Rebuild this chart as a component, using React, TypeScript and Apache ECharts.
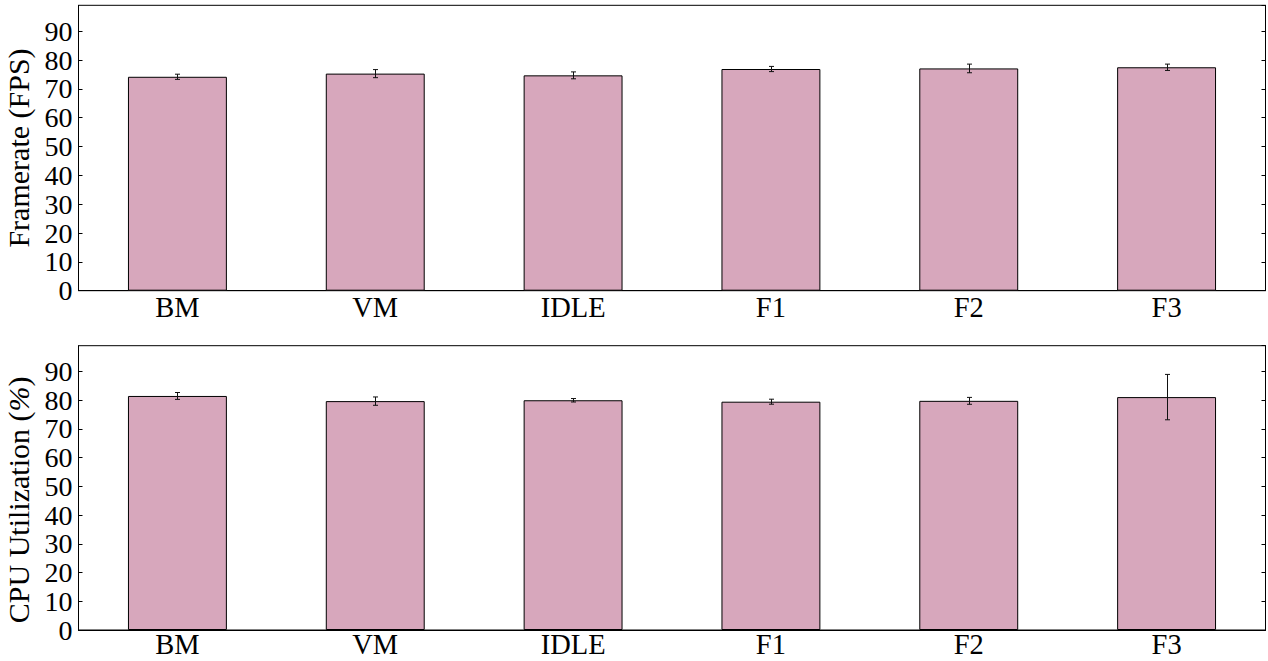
import React, { useEffect, useRef } from "react";
import * as echarts from "echarts";

const categories = ["BM", "VM", "IDLE", "F1", "F2", "F3"];
const fpsValues = [74.2, 75.3, 74.7, 76.9, 77.1, 77.5];
const fpsErrors = [0.9, 1.4, 1.2, 0.9, 1.5, 1.1];
const cpuValues = [81.5, 79.7, 80.0, 79.5, 79.8, 81.1];
const cpuErrors = [1.2, 1.45, 0.6, 0.87, 1.2, 7.9];
const yTitles = ["Framerate (FPS)", "CPU Utilization ({p|%})"];

const FONT = "Liberation Serif";
const BAR_COLOR = "#d7a7bc";

export default function App() {
  const ref = useRef<HTMLDivElement>(null);
  useEffect(() => {
    if (!ref.current) return;
    const chart = echarts.init(ref.current, undefined, { renderer: "svg" });
    const grids = [
      { left: 78.5, right: 2.5, top: 5.3, height: 285.4 },
      { left: 78.5, right: 2.5, top: 345.7, height: 284.3 },
    ];
    const labelMargins = [17, 14.5];
    const yMax = 99;
    const xAxis: any[] = [];
    const yAxis: any[] = [];
    const series: any[] = [];
    const sets = [
      { vals: fpsValues, errs: fpsErrors },
      { vals: cpuValues, errs: cpuErrors },
    ];
    grids.forEach((g, i) => {
      xAxis.push({
        type: "category",
        gridIndex: i,
        data: categories,
        axisTick: { show: false },
        axisLine: { show: true, lineStyle: { color: "#000", width: 1 } },
        axisLabel: {
          fontFamily: FONT,
          fontSize: 28.5,
          color: "#000",
          margin: labelMargins[i],
          verticalAlign: "middle",
          lineHeight: 24,
        },
        splitLine: { show: false },
      });
      yAxis.push({
        type: "value",
        gridIndex: i,
        min: 0,
        max: yMax,
        interval: 10,
        position: "left",
        name: yTitles[i],
        nameLocation: "middle",
        nameGap: 41,
        nameTextStyle: {
          fontFamily: FONT,
          fontSize: 30,
          color: "#000",
          padding: i === 1 ? [0, 24, 0, 0] : 0,
          rich: { p: { fontFamily: FONT, fontSize: 30, fontStyle: "italic", color: "#000" } },
        },
        axisLine: { show: true, lineStyle: { color: "#000", width: 1 } },
        axisTick: { show: true, inside: true, length: 4, lineStyle: { color: "#000" } },
        axisLabel: {
          fontFamily: FONT,
          fontSize: 28,
          color: "#000",
          margin: 6,
          showMaxLabel: false,
          formatter: (v: number) => (v % 10 === 0 ? String(v) : ""),
        },
        splitLine: { show: false },
      });
      yAxis.push({
        type: "value",
        gridIndex: i,
        min: 0,
        max: yMax,
        interval: 10,
        position: "right",
        axisLine: { show: true, lineStyle: { color: "#000", width: 1 } },
        axisTick: { show: true, inside: true, length: 4, lineStyle: { color: "#000" } },
        axisLabel: { show: false },
        splitLine: { show: false },
      });
      const { vals, errs } = sets[i];
      series.push({
        type: "bar",
        xAxisIndex: i,
        yAxisIndex: i * 2,
        data: vals,
        barWidth: "50%",
        itemStyle: { color: BAR_COLOR, borderColor: "#000", borderWidth: 1 },
      });
      series.push({
        type: "custom",
        xAxisIndex: i,
        yAxisIndex: i * 2,
        data: vals.map((v, k) => [k, v - errs[k], v + errs[k]]),
        z: 10,
        renderItem: (params: any, api: any) => {
          const x = api.value(0);
          const lo = api.coord([x, api.value(1)]);
          const hi = api.coord([x, api.value(2)]);
          const cx = Math.round(lo[0]) + 0.5;
          const style = { stroke: "#111", lineWidth: 1 };
          return {
            type: "group",
            children: [
              { type: "line", shape: { x1: cx, y1: lo[1], x2: cx, y2: hi[1] }, style },
              { type: "line", shape: { x1: cx - 2.5, y1: lo[1], x2: cx + 2.5, y2: lo[1] }, style },
              { type: "line", shape: { x1: cx - 2.5, y1: hi[1], x2: cx + 2.5, y2: hi[1] }, style },
            ],
          };
        },
      });
    });
    chart.setOption({
      animation: false,
      backgroundColor: "#fff",
      textStyle: { fontFamily: FONT },
      grid: grids.map((g) => ({
        ...g,
        show: true,
        borderColor: "#000",
        borderWidth: 1,
        backgroundColor: "transparent",
        containLabel: false,
        outerBoundsMode: "none",
      })),
      xAxis,
      yAxis,
      series,
    });
    return () => chart.dispose();
  }, []);
  return (
    <div
      ref={ref}
      style={{ position: "fixed", left: 0, top: 0, width: 1268, height: 661, background: "#fff" }}
    />
  );
}
